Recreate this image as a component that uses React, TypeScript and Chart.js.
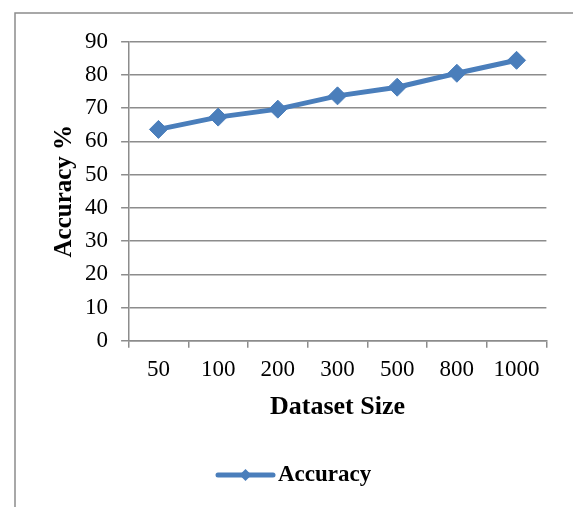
import React, { useEffect, useRef } from "react";
import { Chart, registerables } from "chart.js";

Chart.register(...registerables);

const categories = ["50", "100", "200", "300", "500", "800", "1000"];
const accuracy = [63.6, 67.3, 69.7, 73.7, 76.3, 80.5, 84.4];
const seriesName = "Accuracy";
const yTitle = "Accuracy %";
const xTitle = "Dataset Size";
const yMin = 0;
const yMax = 90;
const yStep = 10;

const LINE_COLOR = "#4A7EBB";
const GRID_COLOR = "#8C8C8C";
const FONT = "'Liberation Serif', 'Times New Roman', serif";

const frame = {
  id: "frame",
  beforeDraw(chart: any) {
    const ctx = chart.ctx;
    ctx.save();
    ctx.strokeStyle = GRID_COLOR;
    ctx.lineWidth = 1.5;
    ctx.strokeRect(15, 13, 700, 700);
    ctx.restore();
  },
};

const legendPlugin = {
  id: "lineLegend",
  afterDraw(chart: any) {
    const ctx = chart.ctx;
    const ds = chart.data.datasets[0];
    const y = 475;
    const x0 = 218;
    const x1 = 273;
    ctx.save();
    ctx.strokeStyle = ds.borderColor;
    ctx.lineWidth = 5;
    ctx.lineCap = "round";
    ctx.beginPath();
    ctx.moveTo(x0, y);
    ctx.lineTo(x1, y);
    ctx.stroke();
    const cx = (x0 + x1) / 2;
    const r = 6;
    ctx.fillStyle = ds.borderColor;
    ctx.beginPath();
    ctx.moveTo(cx, y - r);
    ctx.lineTo(cx + r, y);
    ctx.lineTo(cx, y + r);
    ctx.lineTo(cx - r, y);
    ctx.closePath();
    ctx.fill();
    ctx.fillStyle = "#000";
    ctx.font = `bold 23px ${FONT}`;
    ctx.textBaseline = "middle";
    ctx.textAlign = "left";
    ctx.fillText(ds.label, 278, y);
    ctx.restore();
  },
};

export default function App() {
  const ref = useRef<HTMLCanvasElement>(null);
  useEffect(() => {
    if (!ref.current) return;
    const chart = new Chart(ref.current, {
      type: "line",
      data: {
        labels: categories,
        datasets: [
          {
            label: seriesName,
            data: accuracy,
            borderColor: LINE_COLOR,
            backgroundColor: LINE_COLOR,
            borderWidth: 5,
            pointStyle: "rectRot",
            pointRadius: 9,
            pointBackgroundColor: LINE_COLOR,
            pointBorderColor: LINE_COLOR,
            pointBorderWidth: 1,
            tension: 0,
          },
        ],
      },
      options: {
        animation: false,
        responsive: false,
        devicePixelRatio: 1,
        layout: { padding: { top: 41.7, right: 26.6, left: 0, bottom: 0 } },
        plugins: { legend: { display: false }, tooltip: { enabled: false } },
        scales: {
          x: {
            type: "category",
            offset: true,
            grid: {
              offset: true,
              drawOnChartArea: false,
              drawTicks: true,
              tickLength: 7,
              color: GRID_COLOR,
              lineWidth: 1.5,
            },
            border: { display: true, color: GRID_COLOR, width: 1.5 },
            ticks: {
              color: "#000",
              font: { family: FONT, size: 23 },
              padding: 8.5,
              maxRotation: 0,
              autoSkip: false,
            },
            title: {
              display: true,
              text: xTitle,
              color: "#000",
              font: { family: FONT, size: 26, weight: "bold" },
              padding: { top: 0, bottom: 84.4 },
            },
            afterFit(scale: any) {
              scale.height = 166.3;
            },
          },
          y: {
            min: yMin,
            max: yMax,
            ticks: {
              stepSize: yStep,
              color: "#000",
              font: { family: FONT, size: 23 },
              padding: 13,
            },
            grid: {
              color: GRID_COLOR,
              lineWidth: 1.5,
              tickLength: 7.5,
            },
            border: { display: true, color: GRID_COLOR, width: 1.5 },
            title: {
              display: true,
              text: yTitle,
              color: "#000",
              font: { family: FONT, size: 25, weight: "bold" },
              padding: { top: 50, bottom: 0 },
            },
            afterFit(scale: any) {
              scale.width = 128.6;
            },
          },
        },
      },
      plugins: [frame, legendPlugin],
    } as any);
    return () => chart.destroy();
  }, []);
  return (
    <div style={{ position: "absolute", left: 0, top: 0, width: 573, height: 507, background: "#fff" }}>
      <canvas ref={ref} width={573} height={507} style={{ display: "block" }} />
    </div>
  );
}
